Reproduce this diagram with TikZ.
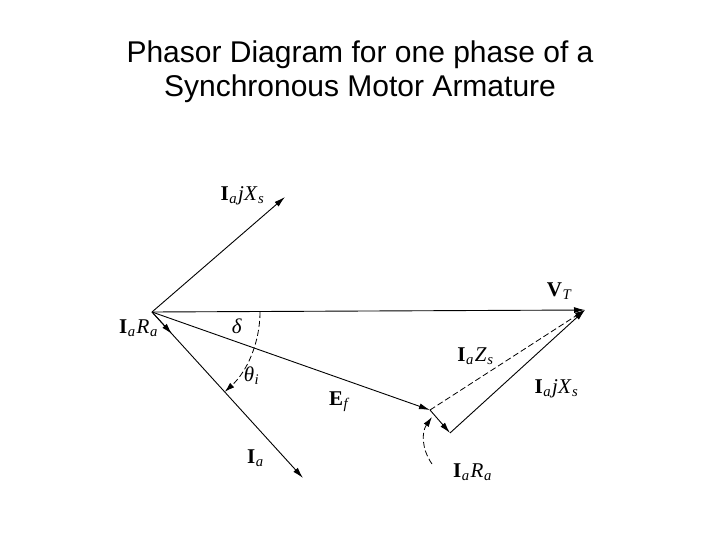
\documentclass[tikz,border=0pt]{standalone}
\usepackage{fontspec}
\setmainfont{Liberation Serif}
\newfontfamily\titlefont{Liberation Sans}
\usetikzlibrary{arrows.meta}
\newcommand{\bI}{\textbf{I}}
\newcommand{\sbs}[1]{\kern0.5pt\textsubscript{\textit{#1}}\kern1pt}
\begin{document}
\begin{tikzpicture}[x=1pt,y=-1pt,
  ph/.style={line width=0.9pt,-{Latex[length=11pt,width=6pt]}},
  dsh/.style={line width=0.8pt,dashed,dash pattern=on 6pt off 3pt},
  lbl/.style={font=\fontsize{21}{23}\selectfont,inner sep=1pt}]
\useasboundingbox (0,0) rectangle (720,540);
\node[font=\titlefont\fontsize{30}{34}\selectfont,align=center] (title) at (360,72) {Phasor Diagram for one phase of a\\Synchronous Motor Armature};
\coordinate (O) at (152,312);
\coordinate (V) at (585,310);
\coordinate (X) at (285,197);
\coordinate (I) at (303,478);
\coordinate (R) at (172,334);
\coordinate (E) at (430,410);
\coordinate (F) at (450,433);
\draw[ph] (O) -- (V);
\draw[ph] (O) -- (X);
\draw[ph] (O) -- (I);
\draw[ph] (O) -- (R);
\draw[ph] (O) -- (E);
\draw[ph] (E) -- (F);
\draw[ph] (F) -- (V);
\draw[dsh,-{Latex[length=10pt,width=6pt]}] (E) -- (V);
\draw[dsh,-{Latex[length=10pt,width=6pt]}] (260,312) arc[start angle=0,end angle=47.7,radius=108];
\coordinate (A1) at (432,464);
\coordinate (A2) at (432,417);
\draw[dsh,-{Latex[length=10pt,width=6pt]}] (A1) to[bend left=35] (A2);
\node[lbl] (l1) at (243,196) {\bI\sbs{a}\textit{jX}\sbs{s}};
\node[lbl] (l2) at (560,291) {\textbf{V}\sbs{T}};
\node[lbl] (l3) at (237,326) {\textit{δ}};
\node[lbl] (l4) at (252,376) {\textit{θ}\sbs{i}};
\node[lbl] (l5) at (340,402) {\textbf{E}\sbs{f}};
\node[lbl] (l6) at (256,458) {\bI\sbs{a}};
\node[lbl] (l7) at (139,328) {\bI\sbs{a}\textit{R}\sbs{a}};
\node[lbl] (l8) at (476,356) {\bI\sbs{a}\textit{Z}\sbs{s}};
\node[lbl] (l9) at (557,389) {\bI\sbs{a}\textit{jX}\sbs{s}};
\node[lbl] (l10) at (473,472) {\bI\sbs{a}\textit{R}\sbs{a}};
\end{tikzpicture}
\end{document}
